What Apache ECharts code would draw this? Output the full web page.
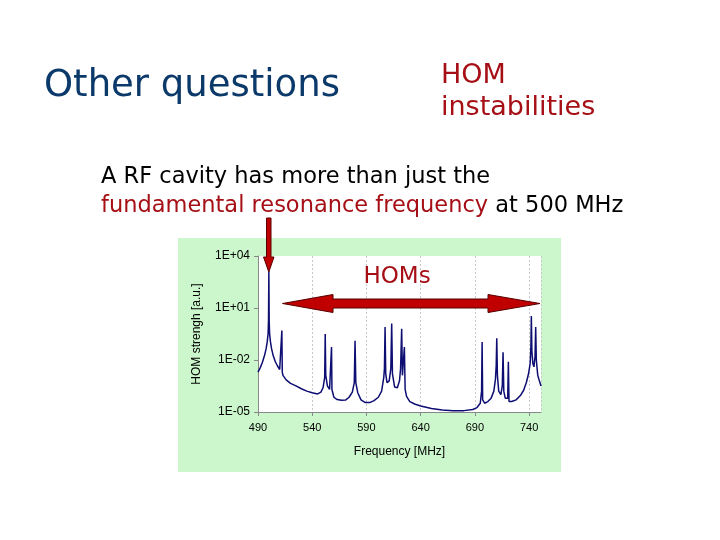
<!DOCTYPE html>
<html><head><meta charset="utf-8">
<script src="https://cdn.jsdelivr.net/npm/echarts@6/dist/echarts.min.js"></script>
<style>html,body{margin:0;padding:0;background:#fff}#c{width:720px;height:540px}</style>
</head><body><div id="c"></div>
<script>
// Frequency [MHz] of each read point
const frequency = [
  490, 492, 494, 496, 497.5, 498.5, 499.3, 499.7, 500, 500.3, 500.7, 501.5, 502.5, 504, 506, 508, 510,
  511.5, 512, 512.4, 513, 516, 520, 525, 530, 535, 540, 545, 548, 550, 551.5, 552, 552.5, 554, 556,
  557.5, 557.8, 558.2, 560, 563, 567, 571, 574, 577, 578.8, 579.5, 580.2, 582, 585, 589, 593, 597,
  601, 604, 606, 606.6, 607.2, 607.8, 609, 611, 612.5, 613.3, 614, 616, 618.5, 620.5, 621.5, 622.5,
  623.2, 624.3, 625, 625.7, 627, 630, 635, 640, 650, 660, 670, 680, 688, 692, 695, 696.2, 696.7,
  697.2, 699, 702, 705, 707.5, 709, 709.7, 710.2, 710.8, 712, 714, 715.3, 716, 716.7, 718, 720.3,
  720.9, 721.5, 724, 728, 732, 735, 737.5, 739.5, 741, 741.7, 742.1, 742.6, 743.5, 744.5, 745.5,
  746.1, 746.7, 748, 749.5, 751
];
// HOM strength [a.u.] at each frequency
const homStrength = [
  2.0e-3, 3.5e-3, 7.1e-3, 1.8e-2, 4.5e-2, 0.11, 0.32, 2.0, 1300, 2.0, 0.32, 0.11, 4.5e-2, 1.8e-2, 7.9e-3, 4.5e-3, 2.8e-3,
  2.5e-3, 0.5, 2.0e-3, 1.3e-3, 7.1e-4, 4.5e-4, 3.2e-4, 2.2e-4, 1.6e-4, 1.3e-4, 1.1e-4, 1.4e-4, 2.5e-4, 1.0e-3, 0.32, 1.3e-3, 3.2e-4, 2.0e-4,
  2.5e-4, 5.6e-2, 2.0e-4, 7.1e-5, 5.2e-5, 4.7e-5, 5.0e-5, 7.1e-5, 1.4e-4, 5.0e-4, 0.13, 5.0e-4, 1.3e-4, 5.0e-5, 3.5e-5, 3.5e-5, 4.5e-5,
  7.1e-5, 1.6e-4, 1.0e-3, 3.2e-3, 0.8, 1.6e-3, 5.0e-4, 6.3e-4, 3.2e-3, 1.26, 1.6e-3, 2.8e-4, 2.5e-4, 6.3e-4, 3.2e-3, 0.63,
  1.3e-3, 1.3e-3, 5.6e-2, 2.0e-4, 7.9e-5, 4.0e-5, 2.8e-5, 2.2e-5, 1.6e-5, 1.3e-5, 1.2e-5, 1.2e-5, 1.4e-5, 1.8e-5, 3.2e-5, 1.6e-4, 0.11,
  5.0e-5, 3.2e-5, 4.0e-5, 6.3e-5, 1.6e-4, 7.9e-4, 5.0e-3, 0.18, 1.3e-3, 1.6e-4, 1.0e-4, 3.2e-4, 2.8e-2, 1.6e-4, 6.3e-5, 6.3e-5,
  7.9e-3, 4.0e-5, 4.0e-5, 5.0e-5, 8.9e-5, 1.8e-4, 5.0e-4, 1.6e-3, 6.3e-3, 6.3e-2, 3.5, 3.2e-2, 6.3e-3, 4.0e-3, 1.6e-2,
  0.8, 1.0e-2, 1.3e-3, 6.3e-4, 3.2e-4
];
const xTickLabels = ['490', '540', '590', '640', '690', '740'];
const yTickLabels = ['1E-05', '1E-02', '1E+01', '1E+04'];

const seriesData = frequency.map((f, i) => [f, homStrength[i]]);
const chart = echarts.init(document.getElementById('c'), null, { renderer: 'canvas' });
const axisFont = '"Liberation Sans", Arial, sans-serif';
const slideFont = '"DejaVu Sans", sans-serif';

chart.setOption({
  animation: false,
  backgroundColor: '#ffffff',
  graphic: [
    { type: 'rect', z: -1, shape: { x: 178, y: 238, width: 383, height: 234 }, style: { fill: '#ccf7cc' } },
    { type: 'text', z: 100, style: { text: 'Other questions', x: 44, y: 86, font: '37px ' + slideFont, fill: '#0b3a6a', textVerticalAlign: 'middle', verticalAlign: 'middle' } },
    { type: 'text', z: 100, style: { text: 'HOM', x: 441, y: 76, font: '27px ' + slideFont, fill: '#a50f15', textVerticalAlign: 'middle', verticalAlign: 'middle' } },
    { type: 'text', z: 100, style: { text: 'instabilities', x: 441, y: 108, font: '27px ' + slideFont, fill: '#a50f15', textVerticalAlign: 'middle', verticalAlign: 'middle' } },
    { type: 'text', z: 100, style: { text: 'A RF cavity has more than just the', x: 101, y: 177, font: '22.5px ' + slideFont, fill: '#000000', textVerticalAlign: 'middle', verticalAlign: 'middle' } },
    { type: 'text', z: 100, style: {
        text: '{r|fundamental resonance frequency} {k|at 500 MHz}', x: 101, y: 206,
        font: '22.5px ' + slideFont, textVerticalAlign: 'middle', verticalAlign: 'middle',
        rich: { r: { fill: '#a50f15', font: '22.5px ' + slideFont }, k: { fill: '#000000', font: '22.5px ' + slideFont } }
    } },
    { type: 'text', z: 100, style: { text: 'HOMs', x: 397, y: 277, font: '23px ' + slideFont, fill: '#a50f15', textAlign: 'center', align: 'center', textVerticalAlign: 'middle', verticalAlign: 'middle' } },
    { type: 'polygon', z: 100, shape: { points: [[282.5, 303.5], [333, 294.5], [333, 299], [488, 299], [488, 294.5], [540, 303.5], [488, 312.5], [488, 308], [333, 308], [333, 312.5]] },
      style: { fill: '#c00000', stroke: '#5a0000', lineWidth: 1 } },
    { type: 'polygon', z: 100, shape: { points: [[266.5, 218], [271, 218], [271, 257], [274, 257], [268.8, 272], [263.5, 257], [266.5, 257]] },
      style: { fill: '#c00000', stroke: '#5a0000', lineWidth: 1 } }
  ],
  grid: { left: 258, top: 256, width: 283, height: 156, show: true, backgroundColor: '#ffffff', borderWidth: 0 },
  xAxis: {
    type: 'value', min: 490, max: 751, interval: 50,
    name: 'Frequency [MHz]', nameLocation: 'middle', nameGap: 34,
    nameTextStyle: { fontFamily: axisFont, fontSize: 12, color: '#000' },
    axisLine: { show: true, lineStyle: { color: '#888888', width: 1 } },
    axisTick: { show: true, inside: false, length: 4, lineStyle: { color: '#888888' } },
    axisLabel: {
      fontFamily: axisFont, fontSize: 11, color: '#000', margin: 10, showMaxLabel: false,
      formatter: v => { const i = Math.round((v - 490) / 50); return (Math.abs(v - (490 + 50 * i)) < 1e-6 && xTickLabels[i]) ? xTickLabels[i] : ''; }
    },
    splitLine: { show: true, lineStyle: { color: '#c8c8c8', type: [2, 2], width: 1 } }
  },
  yAxis: {
    type: 'log', logBase: 10, min: 1e-5, max: 1e4, interval: 3,
    name: 'HOM strengh [a.u.]', nameLocation: 'middle', nameGap: 55, nameRotate: 90,
    nameTextStyle: { fontFamily: axisFont, fontSize: 12, color: '#000' },
    axisLine: { show: true, lineStyle: { color: '#888888', width: 1 } },
    axisTick: { show: true, inside: false, length: 4, lineStyle: { color: '#888888' } },
    axisLabel: {
      fontFamily: axisFont, fontSize: 12, color: '#000', margin: 8,
      formatter: v => { const e = Math.round(Math.log10(v)); const i = Math.round((e + 5) / 3); return yTickLabels[i] || ''; }
    },
    splitLine: { show: false },
    minorTick: { show: false }
  },
  series: [{
    type: 'line', data: seriesData, showSymbol: false, symbol: 'none', smooth: false,
    lineStyle: { color: '#0d0d72', width: 1.5 }, clip: true
  }]
});
</script>
</body></html>
